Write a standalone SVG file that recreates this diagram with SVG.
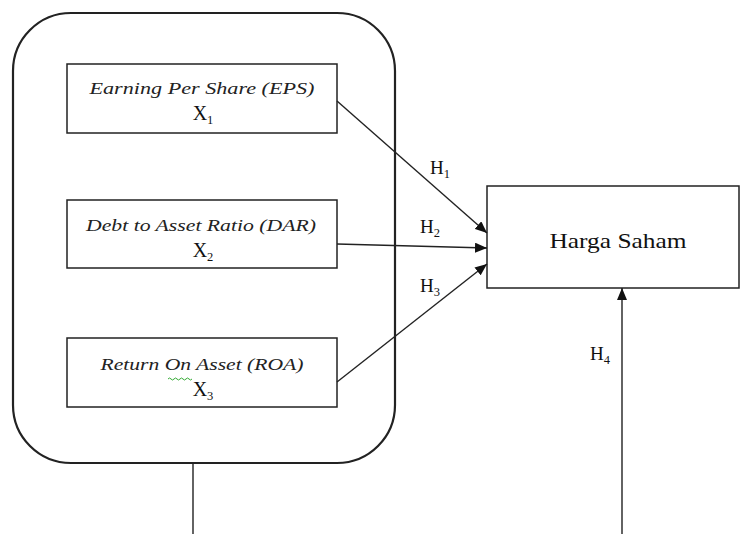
<svg xmlns="http://www.w3.org/2000/svg" width="740" height="534" viewBox="0 0 740 534">
<style>
.box{fill:#fff;stroke:#222;stroke-width:1.5}
.it{font-family:"Liberation Serif","Times New Roman",serif;font-style:italic;font-size:17.5px;fill:#222;text-anchor:middle}
.x{font-family:"Liberation Serif","Times New Roman",serif;font-size:20px;fill:#111;text-anchor:middle}
.h{font-family:"Liberation Serif","Times New Roman",serif;font-size:19px;fill:#111}
.sub{font-size:12.5px}
.con{stroke:#222;stroke-width:1.4;fill:none}
</style>
<defs>
<marker id="ah" viewBox="0 0 12 10" refX="12" refY="5" markerWidth="12" markerHeight="10" markerUnits="userSpaceOnUse" orient="auto">
<path d="M0,0 L12,5 L0,10 Z" fill="#111"/>
</marker>
</defs>
<rect width="740" height="534" fill="#fff"/>
<g id="group">
<rect x="13" y="13" width="382" height="450" rx="58" ry="58" fill="none" stroke="#222" stroke-width="2.2"/>
</g>
<g id="eps">
<rect class="box" x="67" y="64" width="270" height="69"/>
<text class="it" x="202" y="94" textLength="225" lengthAdjust="spacingAndGlyphs">Earning Per Share (EPS)</text>
<text class="x" x="203" y="120">X<tspan class="sub" dy="4">1</tspan></text>
</g>
<g id="dar">
<rect class="box" x="67" y="200" width="270" height="68"/>
<text class="it" x="201" y="231" textLength="230" lengthAdjust="spacingAndGlyphs">Debt to Asset Ratio (DAR)</text>
<text class="x" x="203" y="257">X<tspan class="sub" dy="4">2</tspan></text>
</g>
<g id="roa">
<rect class="box" x="67" y="338" width="270" height="69"/>
<text class="it" x="202" y="370" textLength="203" lengthAdjust="spacingAndGlyphs">Return On Asset (ROA)</text>
<path d="M168,379 q1.5,-2 3,0 t3,0 t3,0 t3,0 t3,0 t3,0 t3,0 t3,0" fill="none" stroke="#3a3" stroke-width="1"/>
<text class="x" x="203" y="396">X<tspan class="sub" dy="4">3</tspan></text>
</g>
<g id="harga">
<rect class="box" x="487" y="186" width="252" height="102"/>
<text x="618" y="248" font-family="Liberation Serif,Times New Roman,serif" font-size="22" fill="#111" text-anchor="middle" textLength="137" lengthAdjust="spacingAndGlyphs">Harga Saham</text>
</g>
<g id="connectors">
<line class="con" x1="337" y1="101" x2="487" y2="233" marker-end="url(#ah)"/>
<line class="con" x1="337" y1="244" x2="487" y2="248" marker-end="url(#ah)"/>
<line class="con" x1="337" y1="382" x2="487" y2="264" marker-end="url(#ah)"/>
<line class="con" x1="193" y1="463" x2="193" y2="534"/>
<line class="con" x1="622" y1="534" x2="622" y2="288" marker-end="url(#ah)"/>
</g>
<g id="labels">
<text class="h" x="430" y="174">H<tspan class="sub" dy="4">1</tspan></text>
<text class="h" x="420" y="233">H<tspan class="sub" dy="4">2</tspan></text>
<text class="h" x="420" y="292">H<tspan class="sub" dy="4">3</tspan></text>
<text class="h" x="590" y="360">H<tspan class="sub" dy="4">4</tspan></text>
</g>
</svg>
